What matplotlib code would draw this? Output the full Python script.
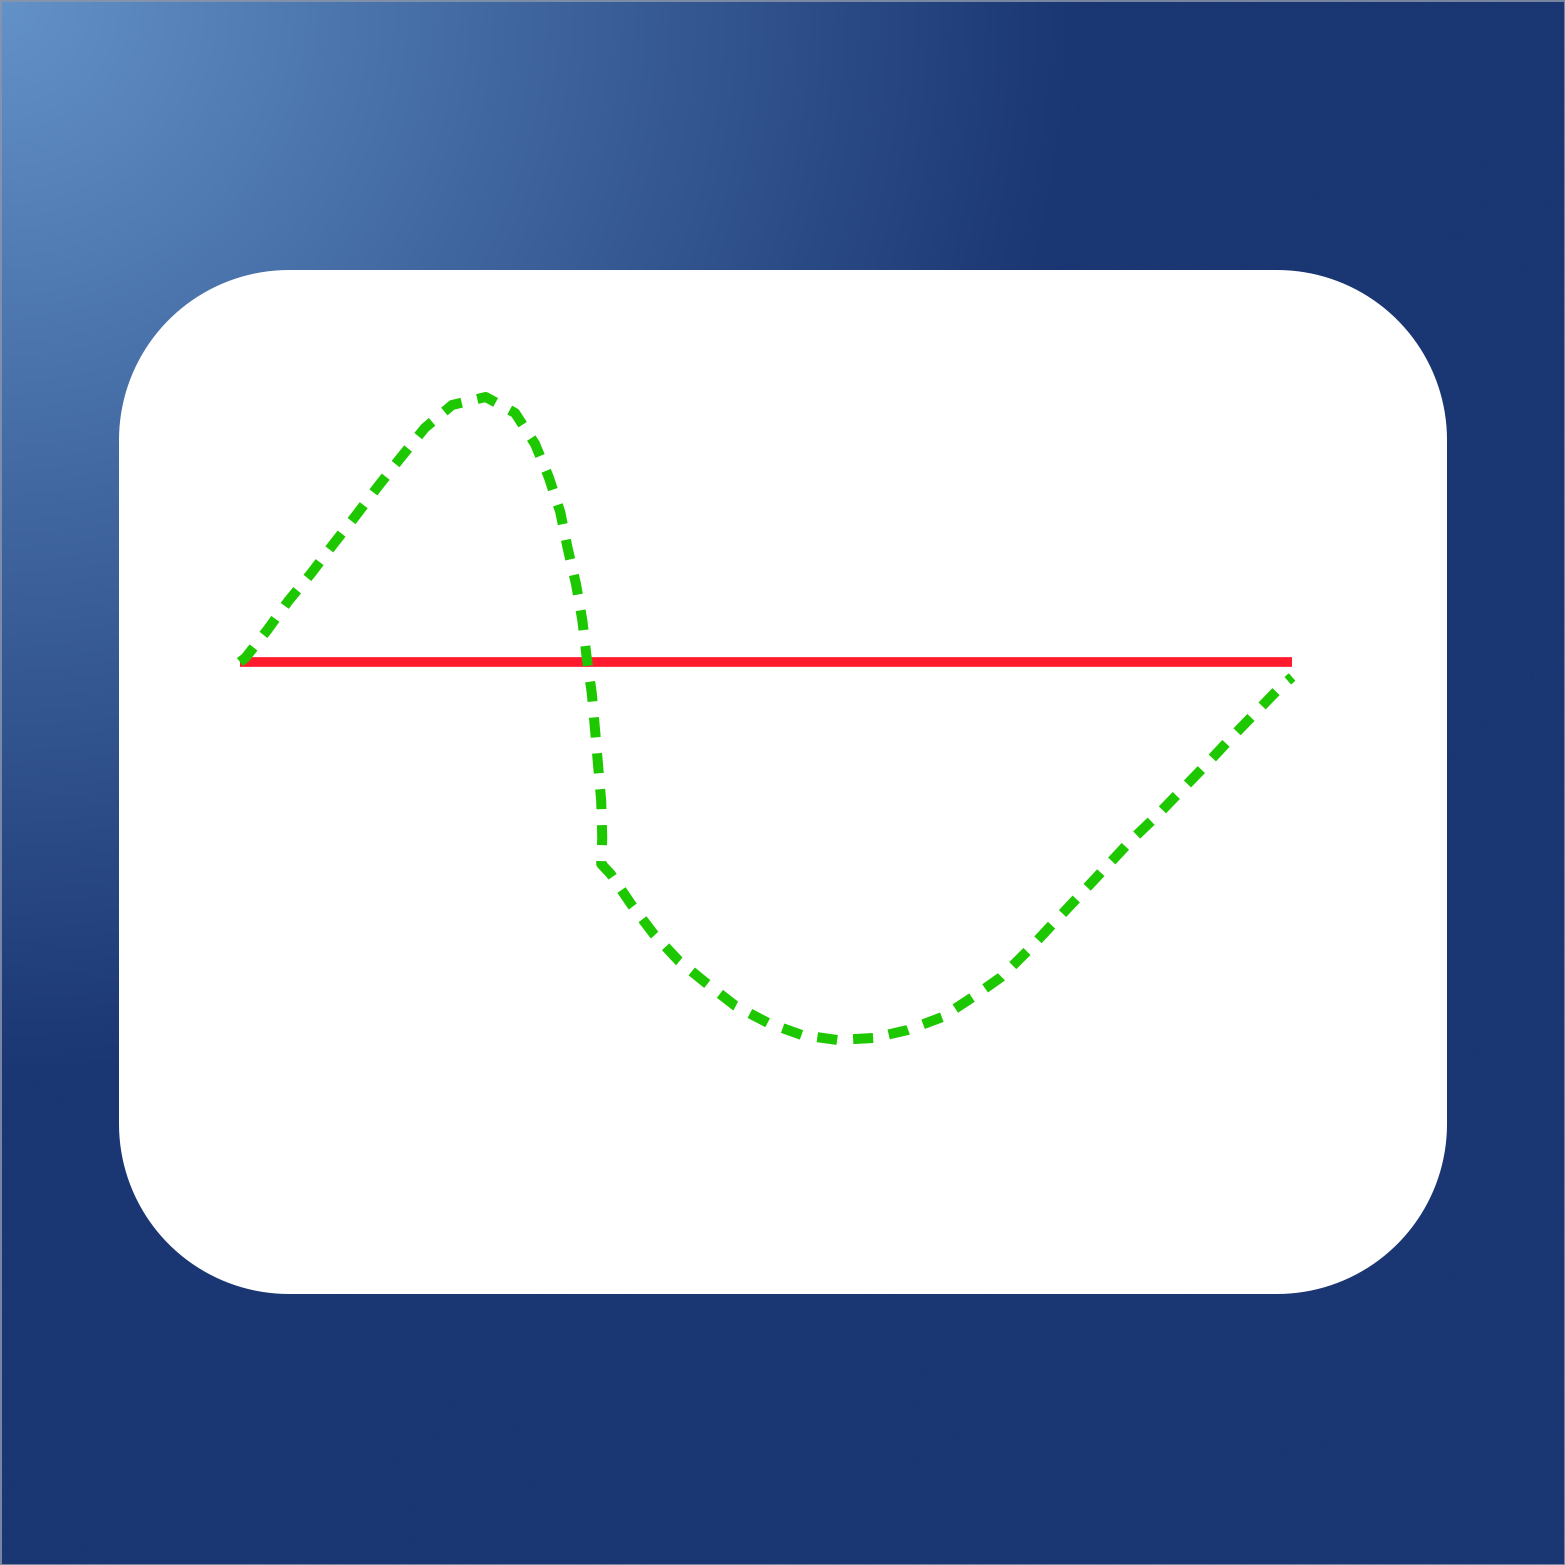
import numpy as np
import matplotlib
matplotlib.use("Agg")
import matplotlib.pyplot as plt
from matplotlib.patches import Polygon, Rectangle

# signal (x in time units, y in amplitude units)
wave_x = [0.00, 0.05, 0.26, 0.46, 0.68, 0.89, 1.10, 1.31, 1.52, 1.76, 2.02,
          2.34, 2.62, 2.81, 2.94, 3.05, 3.12, 3.20, 3.26, 3.30, 3.35, 3.38,
          3.41, 3.44, 3.45, 3.44, 3.53, 3.73, 3.94, 4.18, 4.45, 4.72, 5.03,
          5.35, 5.69, 6.03, 6.36, 6.69, 6.98, 7.25, 7.50, 7.74, 8.00, 8.24,
          8.48, 8.71, 8.94, 9.18, 9.42, 9.66, 9.90, 10.02]
wave_y = [0.00, 0.04, 0.32, 0.61, 0.89, 1.18, 1.46, 1.75, 2.03, 2.34, 2.57,
          2.65, 2.49, 2.18, 1.85, 1.50, 1.14, 0.78, 0.42, 0.06, -0.31, -0.66,
          -1.03, -1.39, -1.76, -2.02, -2.12, -2.43, -2.72, -2.99, -3.22, -3.44,
          -3.61, -3.73, -3.78, -3.76, -3.68, -3.55, -3.35, -3.15, -2.89, -2.62,
          -2.33, -2.06, -1.79, -1.56, -1.31, -1.05, -0.78, -0.52, -0.26, -0.15]

baseline_x = [0.0, 10.02]
baseline_y = [0.0, 0.0]

W = 1565
fig = plt.figure(figsize=(W / 100, W / 100), dpi=100)

# background with radial gradient from top-left corner
bg = fig.add_axes([0, 0, 1, 1])
bg.set_xlim(0, W)
bg.set_ylim(W, 0)
bg.axis("off")
yy, xx = np.mgrid[0:W:4, 0:W:4]
r = np.clip(np.hypot(xx, yy) / 1080.0, 0, 1)
light = np.array([99, 146, 200]) / 255
dark = np.array([26, 54, 115]) / 255
img = light[None, None, :] * (1 - r[..., None]) + dark[None, None, :] * r[..., None]
bg.imshow(img, extent=(0, W, W, 0), interpolation="bilinear", zorder=0)
bg.add_patch(Rectangle((0.5, 0.5), W - 1, W - 1, fill=False, ec="#8a96aa", lw=1.2, zorder=1))

# white card with circular corners
x0, y0, x1, y1, rad = 119, 270, 1447, 1294, 170
t = np.linspace(0, np.pi / 2, 40)
pts = []
for cx, cy, a0 in [(x1 - rad, y1 - rad, 0), (x0 + rad, y1 - rad, np.pi / 2),
                   (x0 + rad, y0 + rad, np.pi), (x1 - rad, y0 + rad, 1.5 * np.pi)]:
    a = a0 + t
    pts += list(zip(cx + rad * np.cos(a), cy + rad * np.sin(a)))
bg.add_patch(Polygon(pts, closed=True, fc="white", ec="none", zorder=2))

# chart axes
ax = fig.add_axes([0, 0, 1, 1])
ax.set_xlim(-240 / 105, (W - 240) / 105)
ax.set_ylim((662 - W) / 100, 662 / 100)
ax.axis("off")
ax.patch.set_alpha(0)

ax.plot(baseline_x, baseline_y, color="#ff1a2e", lw=7.0, solid_capstyle="butt", zorder=3)
ax.plot(wave_x, wave_y, color="#1ec800", lw=7.2, zorder=4,
        linestyle=(0, (2.0, 1.6)), dash_capstyle="butt", dash_joinstyle="round")

fig.savefig("out.png", dpi=100)
plt.close(fig)
